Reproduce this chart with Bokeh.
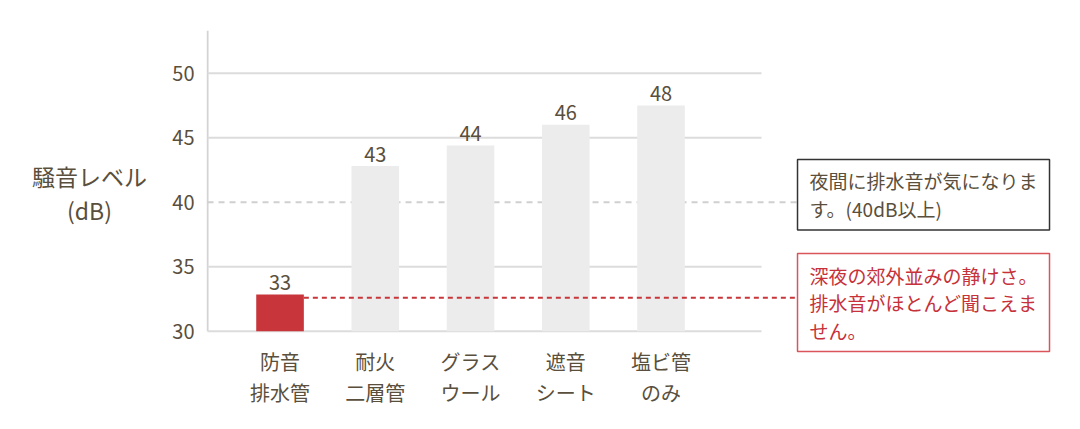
from bokeh.plotting import figure
from bokeh.layouts import row
from bokeh.models import ColumnDataSource, FixedTicker, Range1d, Label
from bokeh.core.properties import value
from bokeh.embed import file_html
from bokeh.resources import INLINE

# data
categories = ["防音\n排水管", "耐火\n二層管", "グラス\nウール", "遮音\nシート", "塩ビ管\nのみ"]
levels = [32.85, 42.8, 44.4, 46.0, 47.5]
level_labels = ["33", "43", "44", "46", "48"]
bar_colors = ["#c8363b", "#ececec", "#ececec", "#ececec", "#ececec"]
y_ticks = [30, 35, 40, 45, 50]
night_level = 40
quiet_level = 32.6
y_title = "騒音レベル\n(dB)"
note_night = "夜間に排水音が気になりま\nす。(40dB以上)"
note_quiet = "深夜の郊外並みの静けさ。\n排水音がほとんど聞こえま\nせん。"

FONT = "Noto Sans CJK JP"
TEXT = "#5a4f3c"
RED = "#c8363b"

x = list(range(len(categories)))
x_left, x_axis, x_grid_end, x_box, x_right = -0.772, -0.761, 5.055, 5.433, 8.152
y_bottom, y_top = 23.85, 53.31

source = ColumnDataSource(data={
    'x': x,
    'top': levels,
    'label': level_labels,
    'name': categories,
    'color': bar_colors,
})

# left strip holding the axis title
t = figure(width=150, height=413, output_backend="svg", toolbar_location=None,
           tools="", x_axis_type=None, y_axis_type=None,
           x_range=Range1d(0, 150), y_range=Range1d(413, 0),
           min_border_left=0, min_border_right=0, min_border_top=0,
           min_border_bottom=0)
t.outline_line_color = None
t.xgrid.visible = False
t.ygrid.visible = False
t.text(x=[89], y=[177], text=[y_title], text_align="center",
       text_baseline="middle", text_color=TEXT, text_line_height=1.0,
       text_font=value(FONT), text_font_size="23px")

p = figure(width=914, height=413, output_backend="svg", toolbar_location=None,
           tools="", x_range=Range1d(x_left, x_right), y_range=Range1d(y_bottom, y_top),
           min_border_left=56, min_border_right=8, min_border_top=30,
           min_border_bottom=3)
p.outline_line_color = None
p.xgrid.visible = False
p.ygrid.visible = False
p.xaxis.visible = False

# vertical axis rule
p.segment(x0=[x_axis], x1=[x_axis], y0=[y_ticks[0]], y1=[y_top],
          line_color="#d4d4d4", line_width=2)

# grid lines, stopping short of the notes
grid_levels = [v for v in y_ticks if v != night_level]
p.segment(x0=[x_axis] * len(grid_levels), x1=[x_grid_end] * len(grid_levels),
          y0=grid_levels, y1=grid_levels, line_color="#dcdcdc", line_width=2)
p.segment(x0=[x_axis], x1=[x_box], y0=[night_level], y1=[night_level],
          line_color="#d0d0d0", line_width=2, line_dash="6 5")

p.vbar(x='x', top='top', bottom=y_ticks[0], width=0.5, fill_color='color',
       line_color=None, source=source)

p.segment(x0=[0.25], x1=[x_box], y0=[quiet_level], y1=[quiet_level],
          line_color=RED, line_width=2, line_dash="5 4")

p.text(x='x', y='top', text='label', source=source, text_align="center",
       text_baseline="alphabetic", y_offset=-12, text_color=TEXT,
       text_font=value(FONT), text_font_size="20px")

# category names under the bars
p.text(x='x', y=y_ticks[0], text='name', source=source, text_align="center",
       text_baseline="top", y_offset=16, text_color=TEXT, text_line_height=1.07,
       text_font=value(FONT), text_font_size="20px")

# y axis
p.yaxis.ticker = FixedTicker(ticks=y_ticks)
p.yaxis.axis_line_color = None
p.yaxis.major_tick_line_color = None
p.yaxis.minor_tick_line_color = None
p.yaxis.major_label_standoff = 6
p.yaxis.major_label_text_font = FONT
p.yaxis.major_label_text_font_size = "20px"
p.yaxis.major_label_text_color = TEXT

# notes
p.add_layout(Label(x=x_box, y=43.31, text=note_night, anchor="top_left",
                   text_font=FONT, text_font_size="19px", text_color=TEXT,
                   text_line_height=1.02, padding=(12, 8),
                   border_line_color="#333333", border_line_width=1.5,
                   background_fill_color="white"))
p.add_layout(Label(x=x_box, y=36.02, text=note_quiet, anchor="top_left",
                   text_font=FONT, text_font_size="19px", text_color="#c6313a",
                   text_line_height=1.02, padding=(12, 8),
                   border_line_color="#d9555a", border_line_width=1.5,
                   background_fill_color="white"))

layout = row(t, p, spacing=0)
open("out.html", "w").write(file_html(layout, INLINE))
